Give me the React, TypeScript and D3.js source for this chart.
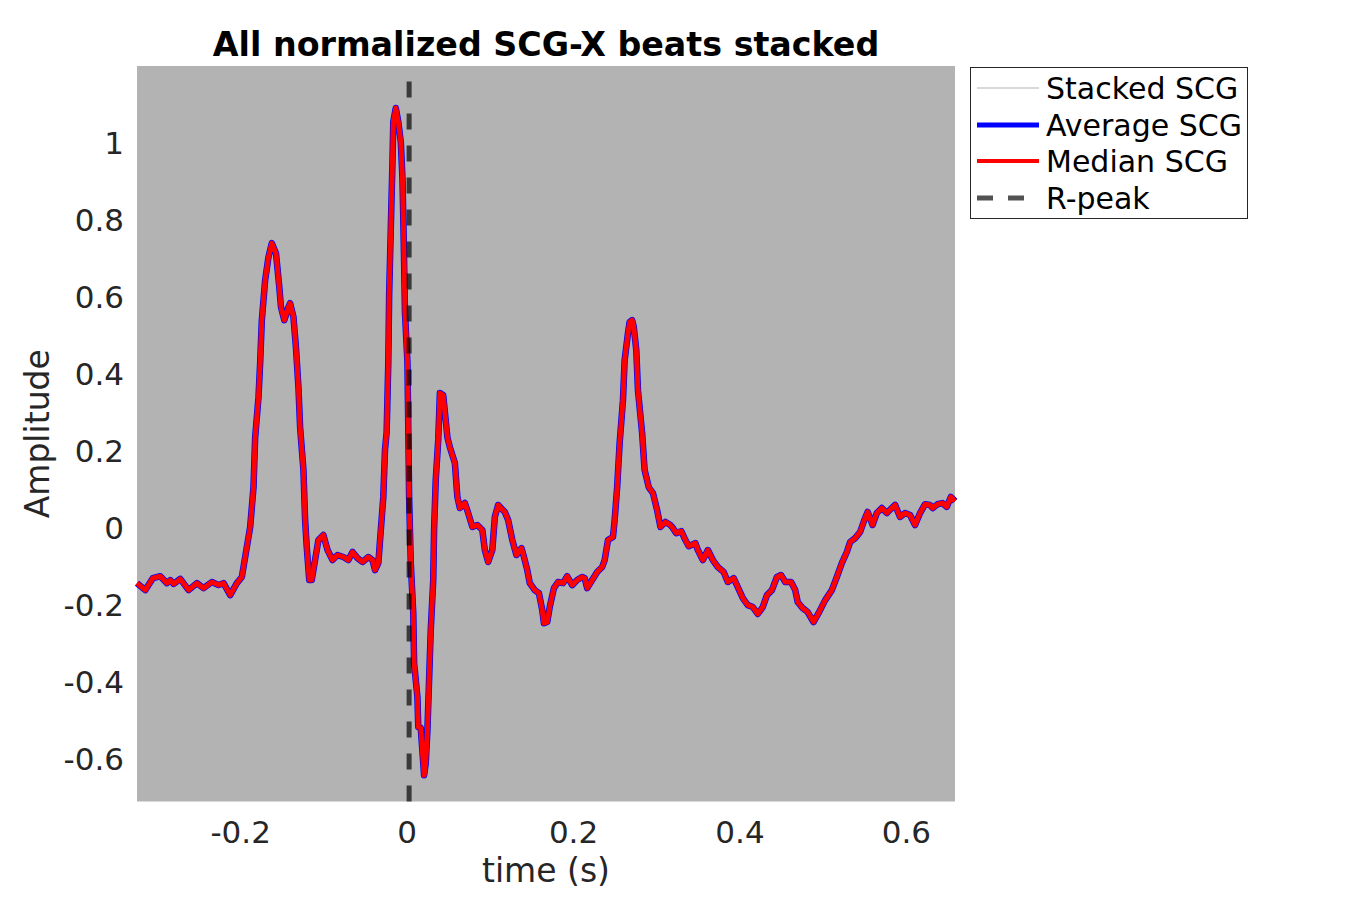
import { useEffect, useRef } from 'react'
import * as d3 from 'd3'

// time axis (s) of the beat
const timeS = [
  -0.327, -0.317, -0.308, -0.299, -0.291, -0.287, -0.283, -0.275, -0.265, -0.255,
  -0.247, -0.237, -0.229, -0.223, -0.215, -0.207, -0.201, -0.195, -0.191, -0.187,
  -0.185, -0.181, -0.179, -0.177, -0.173, -0.169, -0.165, -0.160, -0.156, -0.154,
  -0.150, -0.145, -0.143, -0.139, -0.136, -0.133, -0.131, -0.127, -0.125, -0.123,
  -0.120, -0.117, -0.113, -0.109, -0.103, -0.098, -0.092, -0.086, -0.079, -0.073,
  -0.068, -0.062, -0.056, -0.049, -0.044, -0.041, -0.037, -0.034, -0.031, -0.029,
  -0.027, -0.025, -0.024, -0.022, -0.020, -0.019, -0.016, -0.013, -0.010, -0.008,
  -0.007, -0.006, -0.005, -0.002, -0.001, 0.000, 0.002, 0.005, 0.006, 0.010,
  0.011, 0.014, 0.017, 0.018, 0.020, 0.022, 0.024, 0.026, 0.029, 0.030,
  0.032, 0.035, 0.037, 0.041, 0.046, 0.049, 0.055, 0.058, 0.061, 0.067,
  0.071, 0.076, 0.082, 0.088, 0.091, 0.095, 0.100, 0.103, 0.107, 0.109,
  0.115, 0.119, 0.124, 0.129, 0.135, 0.138, 0.142, 0.145, 0.151, 0.156,
  0.160, 0.162, 0.166, 0.169, 0.174, 0.179, 0.185, 0.190, 0.196, 0.202,
  0.208, 0.211, 0.214, 0.220, 0.226, 0.232, 0.235, 0.239, 0.245, 0.247,
  0.250, 0.253, 0.257, 0.259, 0.263, 0.265, 0.268, 0.270, 0.273, 0.275,
  0.280, 0.283, 0.288, 0.293, 0.298, 0.302, 0.308, 0.314, 0.316, 0.321,
  0.327, 0.332, 0.336, 0.344, 0.347, 0.353, 0.359, 0.365, 0.371, 0.378,
  0.383, 0.390, 0.395, 0.401, 0.407, 0.413, 0.419, 0.425, 0.430, 0.436,
  0.442, 0.447, 0.452, 0.459, 0.464, 0.467, 0.473, 0.479, 0.486, 0.492,
  0.500, 0.508, 0.514, 0.520, 0.526, 0.530, 0.536, 0.542, 0.547, 0.551,
  0.557, 0.562, 0.568, 0.574, 0.580, 0.584, 0.590, 0.596, 0.602, 0.608,
  0.614, 0.620, 0.626, 0.629, 0.635, 0.641, 0.646, 0.651, 0.656,
]

// average SCG amplitude (median lies on top of it at this scale)
const averageScg = [
  -0.143, -0.161, -0.130, -0.125, -0.143, -0.135, -0.145, -0.132, -0.161, -0.143,
  -0.156, -0.140, -0.148, -0.143, -0.174, -0.143, -0.127, -0.049, 0.003, 0.106,
  0.236, 0.340, 0.429, 0.540, 0.644, 0.704, 0.740, 0.714, 0.626, 0.574,
  0.540, 0.574, 0.584, 0.548, 0.470, 0.366, 0.262, 0.151, 0.021, -0.049,
  -0.135, -0.135, -0.083, -0.031, -0.018, -0.057, -0.083, -0.070, -0.075, -0.083,
  -0.062, -0.078, -0.088, -0.075, -0.083, -0.109, -0.091, -0.005, 0.081, 0.203,
  0.249, 0.431, 0.605, 0.779, 0.951, 1.055, 1.091, 1.055, 1.003, 0.909,
  0.805, 0.691, 0.561, 0.431, 0.260, 0.081, -0.091, -0.221, -0.351, -0.439,
  -0.517, -0.519, -0.610, -0.642, -0.610, -0.525, -0.395, -0.265, -0.135, -0.005,
  0.125, 0.229, 0.351, 0.345, 0.236, 0.210, 0.169, 0.081, 0.052, 0.065,
  0.039, 0.003, 0.008, -0.005, -0.057, -0.088, -0.057, 0.029, 0.060, 0.055,
  0.042, 0.021, -0.031, -0.070, -0.052, -0.075, -0.109, -0.143, -0.161, -0.169,
  -0.213, -0.247, -0.244, -0.205, -0.156, -0.140, -0.143, -0.125, -0.148, -0.135,
  -0.127, -0.130, -0.156, -0.135, -0.114, -0.101, -0.083, -0.031, -0.023, 0.021,
  0.106, 0.221, 0.332, 0.436, 0.506, 0.535, 0.540, 0.522, 0.462, 0.358,
  0.247, 0.151, 0.106, 0.091, 0.047, 0.003, 0.016, 0.008, 0.003, -0.013,
  -0.008, -0.031, -0.047, -0.039, -0.057, -0.083, -0.057, -0.083, -0.101, -0.114,
  -0.140, -0.130, -0.153, -0.182, -0.200, -0.205, -0.223, -0.205, -0.174, -0.161,
  -0.127, -0.122, -0.140, -0.140, -0.161, -0.192, -0.208, -0.218, -0.244, -0.221,
  -0.187, -0.161, -0.127, -0.091, -0.062, -0.036, -0.026, -0.010, 0.021, 0.042,
  0.008, 0.039, 0.052, 0.039, 0.052, 0.060, 0.029, 0.039, 0.034, 0.008,
  0.039, 0.062, 0.060, 0.052, 0.062, 0.065, 0.055, 0.081, 0.070,
]
const medianScg = averageScg

const xTicks = [-0.2, 0, 0.2, 0.4, 0.6]
const yTicks = [-0.6, -0.4, -0.2, 0, 0.2, 0.4, 0.6, 0.8, 1]
const legendItems = ['Stacked SCG', 'Average SCG', 'Median SCG', 'R-peak']

export default function App() {
  const svgRef = useRef<SVGSVGElement>(null)

  useEffect(() => {
    if (!svgRef.current) return
    const svg = d3.select(svgRef.current)
    svg.selectAll('*').remove()

    const left = 137, right = 955, top = 66, bottom = 801.5
    const font = 'DejaVu Sans, sans-serif'

    const x = d3.scaleLinear().domain([-0.327, 0.656]).range([left, right])
    const y = d3.scaleLinear().domain([-0.71, 1.2]).range([bottom, top])

    svg.append('rect')
      .attr('width', 1350).attr('height', 900).attr('fill', 'white')

    // axes background
    svg.append('rect')
      .attr('x', left).attr('y', top)
      .attr('width', right - left).attr('height', bottom - top)
      .attr('fill', '#b3b3b3')

    const pts = timeS.map((t, i) => [t, averageScg[i]] as [number, number])
    const medPts = timeS.map((t, i) => [t, medianScg[i]] as [number, number])
    const line = d3.line<[number, number]>().x(d => x(d[0])).y(d => y(d[1]))

    svg.append('path')
      .attr('d', line(pts))
      .attr('fill', 'none')
      .attr('stroke', '#0000ff')
      .attr('stroke-width', 6.5)
      .attr('stroke-linejoin', 'round')

    svg.append('path')
      .attr('d', line(medPts))
      .attr('fill', 'none')
      .attr('stroke', '#ff0000')
      .attr('stroke-width', 5)
      .attr('stroke-linejoin', 'round')

    // R-peak marker, drawn from the bottom so the dash pattern starts there
    svg.append('line')
      .attr('x1', x(0)).attr('x2', x(0))
      .attr('y1', bottom).attr('y2', top)
      .attr('stroke', 'black')
      .attr('stroke-opacity', 0.68)
      .attr('stroke-width', 5)
      .attr('stroke-dasharray', '16,16')

    // tick labels
    svg.selectAll('.xtick')
      .data(xTicks)
      .enter()
      .append('text')
      .attr('x', d => x(d) - 2)
      .attr('y', 843)
      .attr('text-anchor', 'middle')
      .attr('font-family', font)
      .attr('font-size', 31)
      .attr('fill', '#262626')
      .text(d => String(d))

    svg.selectAll('.ytick')
      .data(yTicks)
      .enter()
      .append('text')
      .attr('x', 124)
      .attr('y', d => y(d) + 11)
      .attr('text-anchor', 'end')
      .attr('font-family', font)
      .attr('font-size', 31)
      .attr('fill', '#262626')
      .text(d => String(d))

    svg.append('text')
      .attr('x', (left + right) / 2).attr('y', 882)
      .attr('text-anchor', 'middle')
      .attr('font-family', font).attr('font-size', 33)
      .attr('fill', '#262626')
      .text('time (s)')

    svg.append('text')
      .attr('transform', `translate(49, ${(top + bottom) / 2}) rotate(-90)`)
      .attr('text-anchor', 'middle')
      .attr('font-family', font).attr('font-size', 33)
      .attr('fill', '#262626')
      .text('Amplitude')

    svg.append('text')
      .attr('x', (left + right) / 2).attr('y', 56)
      .attr('text-anchor', 'middle')
      .attr('font-family', font).attr('font-size', 33.3)
      .attr('font-weight', 'bold')
      .attr('fill', 'black')
      .text('All normalized SCG-X beats stacked')

    // legend
    const lg = svg.append('g')
    lg.append('rect')
      .attr('x', 970.5).attr('y', 67.5)
      .attr('width', 277).attr('height', 151)
      .attr('fill', 'white')
      .attr('stroke', '#262626')
      .attr('stroke-width', 1)

    const rowY = [88, 125, 161, 198]
    const strokes = [
      { c: '#b3b3b3', w: 1, dash: null, o: 1 },
      { c: '#0000ff', w: 5, dash: null, o: 1 },
      { c: '#ff0000', w: 4, dash: null, o: 1 },
      { c: 'black', w: 5, dash: '16,15', o: 0.68 },
    ]
    legendItems.forEach((label, i) => {
      const s = strokes[i]
      const l = lg.append('line')
        .attr('x1', 977).attr('x2', 1039)
        .attr('y1', rowY[i]).attr('y2', rowY[i])
        .attr('stroke', s.c)
        .attr('stroke-width', s.w)
        .attr('stroke-opacity', s.o)
      if (s.dash) l.attr('stroke-dasharray', s.dash)
      lg.append('text')
        .attr('x', 1046).attr('y', rowY[i] + 10.5)
        .attr('font-family', font).attr('font-size', 30)
        .attr('fill', 'black')
        .text(label)
    })
  }, [])

  return (
    <svg
      ref={svgRef}
      width={1350}
      height={900}
      style={{ position: 'absolute', left: 0, top: 0 }}
    />
  )
}
